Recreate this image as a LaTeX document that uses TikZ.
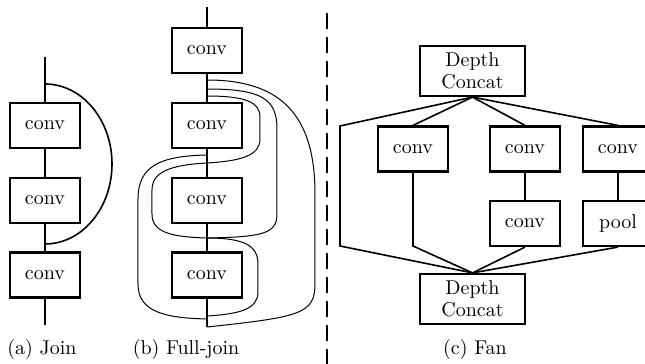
\documentclass[tikz,border=0pt]{standalone}

\begin{document}
\begin{tikzpicture}[x=0.5pt, y=0.5pt, font=\fontsize{10}{11}\selectfont]
  \tikzset{
    blk/.style={draw,line width=1.1pt,minimum width=35pt,minimum height=22.5pt,inner sep=0pt},
    cat/.style={blk,minimum width=52.5pt,minimum height=25pt,align=center},
    lnk/.style={line width=0.8pt},
    skp/.style={line width=0.5pt},
    sep/.style={line width=0.8pt,dash pattern=on 8pt off 4pt}
  }
  \useasboundingbox (0,0) rectangle (645,364);

  % (a) join
  \coordinate (jtop) at (45,307);
  \coordinate (jbot) at (45,39);
  \coordinate (js) at (45,280);
  \node[blk] (j1) at (45,238.5) {conv};
  \node[blk] (j2) at (45,163.5) {conv};
  \node[blk] (j3) at (45,89) {conv};
  \draw[lnk] (jtop) -- (j1) -- (j2) -- (j3) -- (jbot);
  \draw[lnk] (js) arc[start angle=90,end angle=-90,x radius=67,y radius=80];

  % (b) full-join
  \coordinate (ftop) at (207,357);
  \coordinate (fbot) at (207,37);
  \node[blk] (f0) at (207,313.5) {conv};
  \node[blk] (f1) at (207,238.5) {conv};
  \node[blk] (f2) at (207,163.5) {conv};
  \node[blk] (f3) at (207,89) {conv};
  \draw[lnk] (ftop) -- (f0) -- (f1) -- (f2) -- (f3) -- (fbot);
  \coordinate (s1) at (207,284);
  \coordinate (s2) at (207,275);
  \coordinate (s3) at (207,268);
  \coordinate (s4) at (207,209);
  \coordinate (s5) at (207,201);
  \coordinate (s6) at (207,126);
  \coordinate (s7) at (207,48);
  \coordinate (s8) at (207,45);
  \draw[skp] (s1) .. controls (280,284) and (315,250) .. (315,170)
    -- (315,80) .. controls (315,50) and (300,47) .. (fbot);
  \draw[skp] (s2) .. controls (262,275) and (277,265) .. (277,235)
    -- (277,150) .. controls (277,130) and (262,127) .. (s6);
  \draw[skp] (s3) .. controls (245,268) and (260,262) .. (260,247)
    -- (260,225) .. controls (260,208) and (240,203) .. (s5);
  \draw[skp] (s5) .. controls (170,199) and (152,192) .. (152,174)
    -- (152,150) .. controls (152,132) and (170,127) .. (s6);
  \draw[skp] (s4) .. controls (160,208) and (138,198) .. (138,165)
    -- (138,80) .. controls (138,52) and (165,46) .. (s8);
  \draw[skp] (s6) .. controls (245,126) and (258,118) .. (258,100)
    -- (258,72) .. controls (258,55) and (240,50) .. (s7);

  % separator
  \coordinate (dtop) at (327,351);
  \coordinate (dbot) at (327,0);
  \draw[sep] (dtop) -- (dbot);

  % (c) fan
  \node[cat] (ctop) at (472.5,293) {Depth\\Concat};
  \node[blk] (c1) at (413,215) {conv};
  \node[blk] (c2) at (525,215) {conv};
  \node[blk] (c3) at (618,215) {conv};
  \node[blk] (c4) at (525,140.5) {conv};
  \node[blk] (pl) at (618,140.5) {pool};
  \node[cat] (cbot) at (472.5,65) {Depth\\Concat};
  \coordinate (lu) at (340,238);
  \coordinate (ll) at (340,118);
  \coordinate (cl) at (413,118);
  \draw[lnk] (ctop.south) -- (lu) -- (ll) -- (cbot.north);
  \draw[lnk] (ctop.south) -- (c1.north);
  \draw[lnk] (ctop.south) -- (c2.north);
  \draw[lnk] (ctop.south) -- (c3.north);
  \draw[lnk] (c1) -- (cl) -- (cbot.north);
  \draw[lnk] (c2) -- (c4);
  \draw[lnk] (c4.south) -- (cbot.north);
  \draw[lnk] (c3) -- (pl);
  \draw[lnk] (pl.south) -- (cbot.north);

  % captions
  \node (capa) at (42,14) {(a) Join};
  \node (capb) at (186,14) {(b) Full-join};
  \node (capc) at (475,14) {(c) Fan};
\end{tikzpicture}
\end{document}
